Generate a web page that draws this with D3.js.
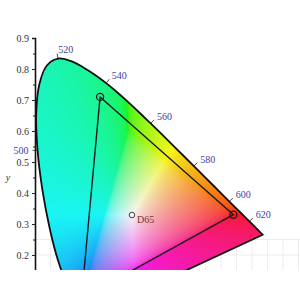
<!DOCTYPE html>
<html>
<head>
<meta charset="utf-8">
<script src="https://cdn.jsdelivr.net/npm/d3@7"></script>
<style>
  body { margin: 0; background: #fff; }
  svg { display: block; }
</style>
</head>
<body>
<svg id="chart" width="300" height="300"></svg>
<script>
// CIE 1931 spectral locus (2 deg observer)
const wavelengths = [380, 385, 390, 395, 400, 405, 410, 415, 420, 425, 430, 435, 440, 445, 450, 455,
  460, 465, 470, 475, 480, 485, 490, 495, 500, 505, 510, 515, 520, 525, 530, 535, 540, 545, 550, 555,
  560, 565, 570, 575, 580, 585, 590, 595, 600, 605, 610, 615, 620, 625, 630, 635, 640, 645, 650, 655,
  660, 665, 670, 680, 690, 700];
const locusX = [0.1741, 0.1740, 0.1738, 0.1736, 0.1733, 0.1730, 0.1726, 0.1721, 0.1714, 0.1703, 0.1689,
  0.1669, 0.1644, 0.1611, 0.1566, 0.1510, 0.1440, 0.1355, 0.1241, 0.1096, 0.0913, 0.0687, 0.0454, 0.0235,
  0.0082, 0.0039, 0.0139, 0.0389, 0.0743, 0.1142, 0.1547, 0.1929, 0.2296, 0.2658, 0.3016, 0.3373, 0.3731,
  0.4087, 0.4441, 0.4788, 0.5125, 0.5448, 0.5752, 0.6029, 0.6270, 0.6482, 0.6658, 0.6801, 0.6915, 0.7006,
  0.7079, 0.7140, 0.7190, 0.7230, 0.7260, 0.7283, 0.7300, 0.7311, 0.7320, 0.7334, 0.7344, 0.7347];
const locusY = [0.0050, 0.0050, 0.0049, 0.0049, 0.0048, 0.0048, 0.0048, 0.0048, 0.0051, 0.0058, 0.0069,
  0.0086, 0.0109, 0.0138, 0.0177, 0.0227, 0.0297, 0.0399, 0.0578, 0.0868, 0.1327, 0.2007, 0.2950, 0.4127,
  0.5384, 0.6548, 0.7502, 0.8120, 0.8338, 0.8262, 0.8059, 0.7816, 0.7543, 0.7243, 0.6923, 0.6589, 0.6245,
  0.5896, 0.5547, 0.5202, 0.4866, 0.4544, 0.4242, 0.3965, 0.3725, 0.3514, 0.3340, 0.3197, 0.3083, 0.2993,
  0.2920, 0.2859, 0.2809, 0.2770, 0.2740, 0.2717, 0.2700, 0.2689, 0.2680, 0.2666, 0.2656, 0.2653];

const labelWavelengths = [500, 520, 540, 560, 580, 600, 620];

// gamut triangle (R, G, B) and white point
const primaryX = [0.64, 0.21, 0.15];
const primaryY = [0.33, 0.71, 0.06];
const whiteName = "D65";
const whiteX = 0.3127;
const whiteY = 0.3290;

const yTicks = [0.2, 0.3, 0.4, 0.5, 0.6, 0.7, 0.8, 0.9];
const yMinorTicks = [0.15, 0.25, 0.35, 0.45, 0.55, 0.65, 0.75, 0.85];
const gridX = d3.range(0.05, 0.91, 0.05);
const gridY = [0.05, 0.1, 0.15, 0.2, 0.25];

const W = 300, H = 300, clipBottom = 270;
const x = d3.scaleLinear().domain([0, 0.9]).range([35, 314]);
const y = d3.scaleLinear().domain([0, 0.9]).range([317, 38]);

const svg = d3.select("#chart");
svg.append("defs").append("clipPath").attr("id", "crop")
  .append("rect").attr("x", 0).attr("y", 0).attr("width", W).attr("height", clipBottom);
const g = svg.append("g").attr("clip-path", "url(#crop)");

// faint grid, only visible low in the plot
const grid = g.append("g").attr("stroke", "#e6e6e6").attr("stroke-width", 0.7);
grid.selectAll(".gx").data(gridX).join("line")
  .attr("x1", d => x(d)).attr("x2", d => x(d)).attr("y1", y(0.25)).attr("y2", y(0));
grid.selectAll(".gy").data(gridY).join("line")
  .attr("x1", x(0)).attr("x2", x(0.9)).attr("y1", d => y(d)).attr("y2", d => y(d));

// colour fill of the horseshoe
const poly = locusX.map((d, i) => [d, locusY[i]]);
const gammaFn = v => v <= 0.0031308 ? 12.92 * v : 1.055 * Math.pow(v, 1 / 2.4) - 0.055;
function chromaColor(cx, cy) {
  const X = cx / cy, Y = 1, Z = (1 - cx - cy) / cy;
  let r = 3.2406 * X - 1.5372 * Y - 0.4986 * Z;
  let gg = -0.9689 * X + 1.8758 * Y + 0.0415 * Z;
  let b = 0.0557 * X - 0.2040 * Y + 1.0570 * Z;
  const m = Math.min(r, gg, b);
  if (m < 0) { r -= m; gg -= m; b -= m; }
  const M = Math.max(r, gg, b);
  return [r, gg, b].map(v => Math.round((0.1 + 0.86 * gammaFn(v / M)) * 255));
}
const canvas = document.createElement("canvas");
canvas.width = W; canvas.height = H;
const ctx = canvas.getContext("2d");
const img = ctx.createImageData(W, H);
for (let py = 0; py < clipBottom; py++) {
  for (let px = 0; px < W; px++) {
    const cx = x.invert(px + 0.5), cy = y.invert(py + 0.5);
    if (cy <= 0 || !d3.polygonContains(poly, [cx, cy])) continue;
    const c = chromaColor(cx, cy);
    const k = (py * W + px) * 4;
    img.data[k] = c[0]; img.data[k + 1] = c[1]; img.data[k + 2] = c[2]; img.data[k + 3] = 255;
  }
}
ctx.putImageData(img, 0, 0);
g.append("image").attr("x", 0).attr("y", 0).attr("width", W).attr("height", H)
  .attr("href", canvas.toDataURL());

// locus outline (smoothed) plus line of purples
const line = d3.line().x(d => x(d[0])).y(d => y(d[1]));
const smooth = d3.line().x(d => x(d[0])).y(d => y(d[1])).curve(d3.curveCatmullRom);
g.append("path").attr("d", smooth(poly) + "Z")
  .attr("fill", "none").attr("stroke", "#111").attr("stroke-width", 1.8)
  .attr("stroke-linejoin", "round");

// wavelength ticks and labels
const labelData = labelWavelengths.map(w => {
  const i = wavelengths.indexOf(w);
  const p = [x(locusX[i]), y(locusY[i])];
  const tx = x(locusX[i + 1]) - x(locusX[i - 1]);
  const ty = y(locusY[i + 1]) - y(locusY[i - 1]);
  const len = Math.hypot(tx, ty);
  return { w, p, n: [ty / len, -tx / len] };
});
g.selectAll(".wtick").data(labelData).join("line")
  .attr("x1", d => d.p[0]).attr("y1", d => d.p[1])
  .attr("x2", d => d.p[0] + d.n[0] * 5).attr("y2", d => d.p[1] + d.n[1] * 5)
  .attr("stroke", "#222").attr("stroke-width", 0.8);
g.selectAll(".wlabel").data(labelData).join("text")
  .attr("x", d => d.p[0] + d.n[0] * 9 + (Math.abs(d.n[0]) < 0.5 ? 2 : 0))
  .attr("y", d => d.p[1] + d.n[1] * 9)
  .attr("dy", "0.3em")
  .attr("text-anchor", d => d.n[0] < -0.5 ? "end" : "start")
  .attr("font-family", "'Liberation Serif', 'DejaVu Serif', serif").attr("font-size", 10)
  .attr("fill", "#4040a8")
  .text(d => d.w);

// gamut triangle
const tri = primaryX.map((d, i) => [d, primaryY[i]]);
g.append("path").attr("d", line(tri) + "Z")
  .attr("fill", "none").attr("stroke", "#1a1a1a").attr("stroke-width", 1.4)
  .attr("stroke-linejoin", "round");
g.selectAll(".prim").data(tri).join("circle")
  .attr("cx", d => x(d[0])).attr("cy", d => y(d[1])).attr("r", 3.5)
  .attr("fill", "none").attr("stroke", "#1a1a1a").attr("stroke-width", 1.3);

// white point
g.append("circle").attr("cx", x(whiteX)).attr("cy", y(whiteY)).attr("r", 2.8)
  .attr("fill", "#f4f4f4").attr("stroke", "#444").attr("stroke-width", 1);
g.append("text").attr("x", x(whiteX) + 5).attr("y", y(whiteY) + 8)
  .attr("font-family", "'Liberation Serif', 'DejaVu Serif', serif").attr("font-size", 10)
  .attr("fill", "#7a3434").text(whiteName);

// y axis
const axisG = g.append("g").attr("transform", `translate(${x(0)},0)`)
  .call(d3.axisLeft(y).tickValues(yTicks).tickSize(3).tickFormat(d3.format(".1f")));
axisG.select(".domain").attr("stroke", "#111").attr("stroke-width", 1.6);
axisG.selectAll(".tick line").attr("stroke", "#222");
axisG.selectAll(".tick text")
  .attr("font-family", "'Liberation Serif', 'DejaVu Serif', serif").attr("font-size", 10)
  .attr("fill", "#333").attr("x", -6);
const minorG = g.append("g").attr("transform", `translate(${x(0)},0)`)
  .call(d3.axisLeft(y).tickValues(yMinorTicks).tickSize(2).tickFormat(""));
minorG.select(".domain").remove();
minorG.selectAll(".tick line").attr("stroke", "#222");

g.append("text").attr("x", 8).attr("y", 181)
  .attr("text-anchor", "middle")
  .attr("font-family", "'Liberation Serif', 'DejaVu Serif', serif").attr("font-size", 10)
  .attr("font-style", "italic").attr("fill", "#333").text("y");
</script>
</body>
</html>
